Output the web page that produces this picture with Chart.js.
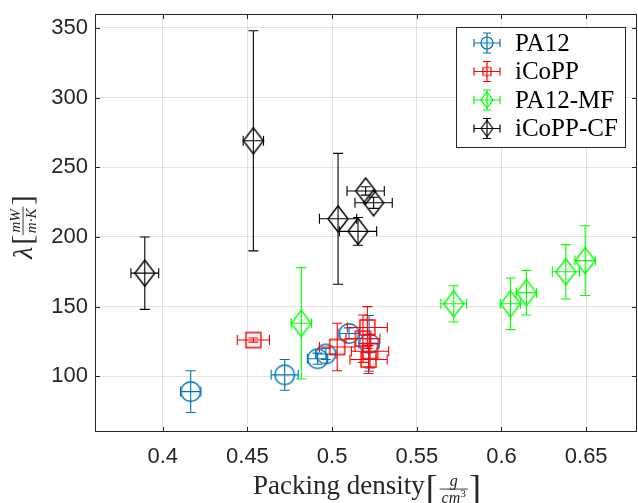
<!DOCTYPE html>
<html>
<head>
<meta charset="utf-8">
<script src="https://cdn.jsdelivr.net/npm/chart.js@4.4.0/dist/chart.umd.min.js"></script>
<style>
  html, body { margin: 0; padding: 0; background: #fff; }
</style>
</head>
<body>
<canvas id="chart" width="638" height="503"></canvas>
<script>
// Series names, in legend order
const seriesNames = ['PA12', 'iCoPP', 'PA12-MF', 'iCoPP-CF'];

// PA12
const pa12X = [0.4165, 0.472, 0.4914, 0.4963, 0.510, 0.5218];
const pa12Y = [89, 101, 112.6, 116, 130.7, 123.6];
const pa12XErr = [0.006, 0.008, 0.006, 0.006, 0.006, 0.006];
const pa12YErr = [15, 11, 4, 4, 4, 20];

// iCoPP
const icoppX = [0.4535, 0.503, 0.5208, 0.5182, 0.5224, 0.5215];
const icoppY = [126, 121, 135, 127, 118, 112];
const icoppXErr = [0.0095, 0.0105, 0.0118, 0.010, 0.011, 0.011];
const icoppYErr = [1.5, 17, 15, 17, 12, 10];

// PA12-MF
const mfX = [0.4818, 0.5718, 0.6053, 0.6147, 0.638, 0.6494];
const mfY = [138, 152, 152, 160, 175, 183];
const mfXErr = [0.006, 0.0076, 0.006, 0.006, 0.008, 0.006];
const mfYErr = [40, 13, 18.5, 16, 19.5, 25];

// iCoPP-CF
const cfX = [0.3894, 0.4535, 0.5035, 0.5198, 0.5245, 0.5153];
const cfY = [174, 269, 213, 233, 224.5, 204];
const cfXErr = [0.0082, 0.006, 0.011, 0.011, 0.011, 0.011];
const cfYErr = [26, 79, 47, 3, 4, 10];

// Axis ticks
const xTicks = [0.4, 0.45, 0.5, 0.55, 0.6, 0.65];
const yTicks = [100, 150, 200, 250, 300, 350];

const axisColor = '#262626';
const gridColor = 'rgba(38,38,38,0.13)';

// marker images (MATLAB-like open markers)
const makeMarker = (shape, color, w, h, lw) => {
  const c = document.createElement('canvas');
  c.width = w + 4;
  c.height = h + 4;
  const g = c.getContext('2d');
  const cx = c.width / 2;
  const cy = c.height / 2;
  g.strokeStyle = color;
  g.lineWidth = lw;
  g.beginPath();
  if (shape === 'circle') {
    g.arc(cx, cy, w / 2, 0, Math.PI * 2);
  } else if (shape === 'square') {
    g.rect(cx - w / 2, cy - h / 2, w, h);
  } else {
    g.moveTo(cx, cy - h / 2);
    g.lineTo(cx + w / 2, cy);
    g.lineTo(cx, cy + h / 2);
    g.lineTo(cx - w / 2, cy);
    g.closePath();
  }
  g.stroke();
  return c;
};

const series = [
  { xs: pa12X, ys: pa12Y, xe: pa12XErr, ye: pa12YErr, color: '#0072BD', shape: 'circle', w: 19.5, h: 19.5, lw: 1.4 },
  { xs: icoppX, ys: icoppY, xe: icoppXErr, ye: icoppYErr, color: '#FF0000', shape: 'square', w: 15, h: 15, lw: 1.4 },
  { xs: mfX, ys: mfY, xe: mfXErr, ye: mfYErr, color: '#00FF00', shape: 'diamond', w: 20, h: 26, lw: 1.4 },
  { xs: cfX, ys: cfY, xe: cfXErr, ye: cfYErr, color: '#000000', shape: 'diamond', w: 20, h: 26, lw: 1.4 },
];

const datasets = series.map((s, k) => ({
  label: seriesNames[k],
  data: s.xs.map((x, i) => ({ x, y: s.ys[i], xErr: s.xe[i], yErr: s.ye[i] })),
  borderColor: s.color,
  backgroundColor: 'transparent',
  pointStyle: makeMarker(s.shape, s.color, s.w, s.h, s.lw),
  legendStyle: makeMarker(s.shape, s.color, s.shape === 'diamond' ? 12 : (s.shape === 'square' ? 8 : 12), s.shape === 'diamond' ? 16 : (s.shape === 'square' ? 8 : 12), 1.2),
  pointRadius: 10,
  showLine: false,
  order: 3 - k, // later series on top, like MATLAB
}));

const drawCross = (ctx, x0, x1, y0, y1, px, py, cap) => {
  ctx.beginPath();
  ctx.moveTo(px, y0); ctx.lineTo(px, y1);
  ctx.moveTo(px - cap, y0); ctx.lineTo(px + cap, y0);
  ctx.moveTo(px - cap, y1); ctx.lineTo(px + cap, y1);
  ctx.moveTo(x0, py); ctx.lineTo(x1, py);
  ctx.moveTo(x0, py - cap); ctx.lineTo(x0, py + cap);
  ctx.moveTo(x1, py - cap); ctx.lineTo(x1, py + cap);
  ctx.stroke();
};

// error bars drawn just before each dataset's markers
const errorBars = {
  id: 'errorBars',
  beforeDatasetDraw(chart, args) {
    const ds = chart.data.datasets[args.index];
    const { x: xs, y: ys } = chart.scales;
    const { ctx } = chart;
    ctx.save();
    ctx.strokeStyle = ds.borderColor;
    ctx.lineWidth = 1.1;
    ds.data.forEach((p) => {
      drawCross(
        ctx,
        xs.getPixelForValue(p.x - p.xErr), xs.getPixelForValue(p.x + p.xErr),
        ys.getPixelForValue(p.y + p.yErr), ys.getPixelForValue(p.y - p.yErr),
        xs.getPixelForValue(p.x), ys.getPixelForValue(p.y), 5,
      );
    });
    ctx.restore();
  },
};

// axes box with inward ticks
const axesBox = {
  id: 'axesBox',
  afterDatasetsDraw(chart) {
    const { ctx, chartArea: a } = chart;
    const { x: xs, y: ys } = chart.scales;
    ctx.save();
    ctx.strokeStyle = axisColor;
    ctx.lineWidth = 1;
    ctx.strokeRect(a.left + 0.5, a.top + 0.5, a.right - a.left - 1, a.bottom - a.top - 1);
    ctx.beginPath();
    xTicks.forEach((v) => {
      const px = Math.round(xs.getPixelForValue(v)) + 0.5;
      ctx.moveTo(px, a.bottom); ctx.lineTo(px, a.bottom - 5);
      ctx.moveTo(px, a.top); ctx.lineTo(px, a.top + 5);
    });
    yTicks.forEach((v) => {
      const py = Math.round(ys.getPixelForValue(v)) + 0.5;
      ctx.moveTo(a.left, py); ctx.lineTo(a.left + 5, py);
      ctx.moveTo(a.right, py); ctx.lineTo(a.right - 5, py);
    });
    ctx.stroke();
    ctx.restore();
  },
};

// legend box in the top-right corner
const boxLegend = {
  id: 'boxLegend',
  afterDraw(chart) {
    const { ctx } = chart;
    const box = { left: 456, top: 27, right: 625, bottom: 147 };
    ctx.save();
    ctx.fillStyle = '#fff';
    ctx.fillRect(box.left, box.top, box.right - box.left, box.bottom - box.top);
    ctx.strokeStyle = axisColor;
    ctx.lineWidth = 1;
    ctx.strokeRect(box.left + 0.5, box.top + 0.5, box.right - box.left, box.bottom - box.top);
    ctx.font = '25px "Liberation Serif"';
    ctx.textBaseline = 'middle';
    ctx.fillStyle = '#000';
    chart.data.datasets.forEach((ds, i) => {
      const cy = 43 + i * 28.5;
      const cx = 487;
      ctx.strokeStyle = ds.borderColor;
      ctx.lineWidth = 1.2;
      drawCross(ctx, cx - 13, cx + 13, cy - 10, cy + 10, cx, cy, 4);
      const img = ds.legendStyle;
      ctx.drawImage(img, cx - img.width / 2, cy - img.height / 2);
      ctx.fillText(ds.label, 515, cy + 1);
    });
    ctx.restore();
  },
};

// LaTeX-like axis titles
const drawFrac = (ctx, cx, axis, num, den, size, supText) => {
  ctx.font = `italic ${size}px "Liberation Serif"`;
  const nw = ctx.measureText(num).width;
  let dw = ctx.measureText(den).width;
  let supW = 0;
  if (supText) {
    ctx.font = `${size * 0.7}px "Liberation Serif"`;
    supW = ctx.measureText(supText).width;
    dw += supW;
  }
  const lw = Math.max(nw, dw) + 4;
  ctx.font = `italic ${size}px "Liberation Serif"`;
  ctx.textAlign = 'left';
  ctx.textBaseline = 'alphabetic';
  ctx.fillText(num, cx - nw / 2, axis - 3);
  const dx = cx - dw / 2;
  const denBase = axis + 3 + size * 0.68;
  ctx.fillText(den, dx, denBase);
  if (supText) {
    ctx.font = `${size * 0.7}px "Liberation Serif"`;
    ctx.fillText(supText, dx + dw - supW, denBase - size * 0.38);
  }
  ctx.fillRect(cx - lw / 2, axis - 0.4, lw, 0.9);
  return lw;
};

const axisTitles = {
  id: 'axisTitles',
  afterDraw(chart) {
    const { ctx } = chart;
    ctx.save();
    ctx.fillStyle = axisColor;
    ctx.textAlign = 'left';
    ctx.textBaseline = 'alphabetic';

    // x title
    let x = 253;
    ctx.font = '27px "Liberation Serif"';
    ctx.fillText('Packing density', x, 494);
    x += ctx.measureText('Packing density').width + 1;
    ctx.font = '36px "Liberation Serif"';
    ctx.fillText('[', x, 500);
    x += ctx.measureText('[').width + 1;
    const fw = drawFrac(ctx, x + 15, 489, 'g', 'cm', 16, '3');
    x += fw + 2;
    ctx.font = '36px "Liberation Serif"';
    ctx.fillText(']', x, 500);

    // y title (rotated)
    ctx.translate(23, 224);
    ctx.rotate(-Math.PI / 2);
    let t = -35;
    ctx.font = 'italic 28px "Liberation Serif"';
    ctx.fillText('λ', t, 9);
    t += ctx.measureText('λ').width + 2;
    ctx.font = '30px "Liberation Serif"';
    ctx.fillText('[', t, 9);
    t += ctx.measureText('[').width;
    const fy = drawFrac(ctx, t + 14, 0, 'mW', 'm·K', 15);
    t += fy + 1;
    ctx.font = '30px "Liberation Serif"';
    ctx.fillText(']', t, 9);
    ctx.restore();
  },
};

const tickFont = { family: '"Liberation Sans", Arial, sans-serif', size: 22 };

new Chart(document.getElementById('chart'), {
  type: 'scatter',
  data: { datasets },
  options: {
    responsive: false,
    animation: false,
    layout: { autoPadding: false, padding: { top: 14, right: 1, left: 0, bottom: 0 } },
    plugins: {
      legend: { display: false },
      tooltip: { enabled: false },
    },
    scales: {
      x: {
        type: 'linear',
        min: 0.36,
        max: 0.68,
        afterBuildTicks: (s) => { s.ticks = xTicks.map((v) => ({ value: v })); },
        afterFit: (s) => { s.height = 71; s.paddingLeft = 0; s.paddingRight = 0; },
        grid: { color: gridColor, drawTicks: false },
        border: { display: false },
        ticks: { color: axisColor, font: tickFont, padding: 12, maxRotation: 0, callback: (v) => String(v) },
      },
      y: {
        type: 'linear',
        min: 60,
        max: 360,
        afterBuildTicks: (s) => { s.ticks = yTicks.map((v) => ({ value: v })); },
        afterFit: (s) => { s.width = 95; s.paddingTop = 0; s.paddingBottom = 0; },
        grid: { color: gridColor, drawTicks: false },
        border: { display: false },
        ticks: { color: axisColor, font: tickFont, padding: 7, callback: (v) => String(v) },
      },
    },
  },
  plugins: [errorBars, axesBox, boxLegend, axisTitles],
});
</script>
</body>
</html>
